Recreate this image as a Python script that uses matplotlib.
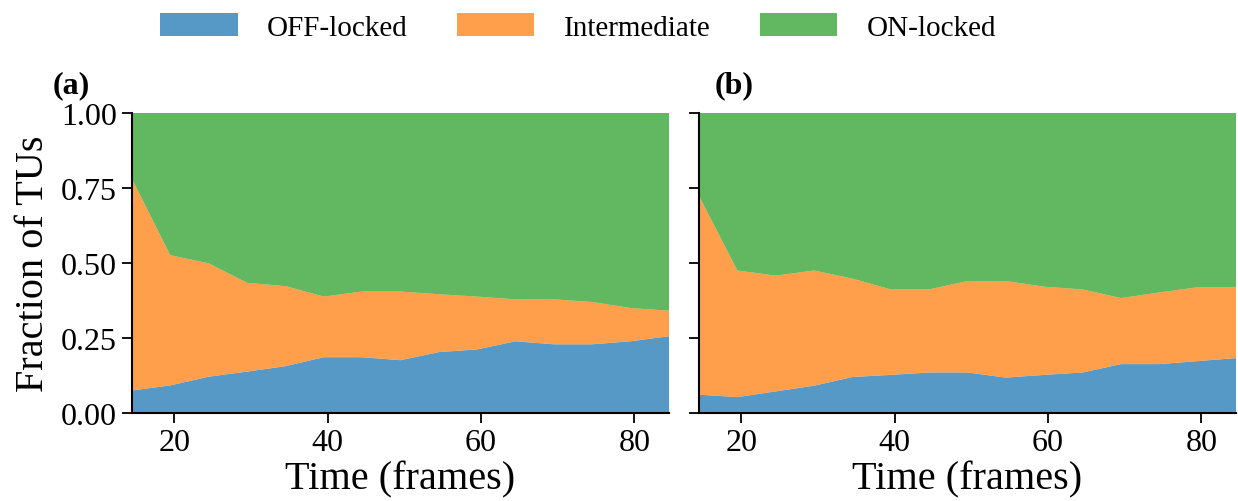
import matplotlib
matplotlib.use("Agg")
import matplotlib.pyplot as plt

plt.rcParams["font.family"] = ["Liberation Serif", "DejaVu Serif"]

# Time points (frames)
time = [14.5, 19.5, 24.5, 29.5, 34.5, 39.5, 44.5, 49.5, 54.5, 59.5, 64.5, 69.5, 74.5, 79.5, 84.5]

# Panel (a)
off_a = [0.075, 0.092, 0.121, 0.138, 0.156, 0.186, 0.186, 0.176, 0.203, 0.212, 0.239, 0.229, 0.229, 0.239, 0.256]
int_a = [0.705, 0.434, 0.378, 0.296, 0.267, 0.202, 0.219, 0.229, 0.193, 0.176, 0.140, 0.150, 0.141, 0.111, 0.085]
on_a = [0.220, 0.474, 0.501, 0.566, 0.577, 0.612, 0.595, 0.595, 0.604, 0.612, 0.621, 0.621, 0.630, 0.650, 0.659]

# Panel (b)
off_b = [0.061, 0.053, 0.072, 0.091, 0.120, 0.127, 0.135, 0.135, 0.118, 0.127, 0.135, 0.163, 0.163, 0.173, 0.183]
int_b = [0.663, 0.422, 0.386, 0.384, 0.328, 0.285, 0.277, 0.305, 0.322, 0.294, 0.277, 0.220, 0.239, 0.246, 0.236]
on_b = [0.276, 0.525, 0.542, 0.525, 0.552, 0.588, 0.588, 0.560, 0.560, 0.579, 0.588, 0.617, 0.598, 0.581, 0.581]

labels = ["OFF-locked", "Intermediate", "ON-locked"]
colors = ["tab:blue", "tab:orange", "tab:green"]

fig = plt.figure(figsize=(12.38, 5.02), dpi=100)
ax1 = fig.add_axes([0.1066, 0.1753, 0.4338, 0.5976])
ax2 = fig.add_axes([0.5646, 0.1753, 0.4338, 0.5976])

panels = [(ax1, off_a, int_a, on_a, "(a)"), (ax2, off_b, int_b, on_b, "(b)")]
for ax, off, mid, on, tag in panels:
    ax.stackplot(time, off, mid, on, labels=labels, colors=colors, alpha=0.75, linewidth=0)
    ax.set_xlim(14.5, 84.5)
    ax.set_ylim(0, 1)
    ax.set_xticks([20, 40, 60, 80])
    ax.set_yticks([0, 0.25, 0.5, 0.75, 1.0])
    ax.spines["top"].set_visible(False)
    ax.spines["right"].set_visible(False)
    for s in ["left", "bottom"]:
        ax.spines[s].set_linewidth(1.5)
    ax.tick_params(axis="both", labelsize=23, length=7.5, width=1.3, direction="out")
    ax.set_xlabel("Time (frames)", fontsize=29, labelpad=2)

ax1.set_yticklabels(["0.00", "0.25", "0.50", "0.75", "1.00"])
ax2.set_yticklabels([])
ax1.set_ylabel("Fraction of TUs", fontsize=29, labelpad=6)

ax1.text(-0.147, 1.093, "(a)", transform=ax1.transAxes, fontsize=23,
         fontweight="bold", va="center", ha="left")
ax2.text(0.03, 1.093, "(b)", transform=ax2.transAxes, fontsize=23,
         fontweight="bold", va="center", ha="left")

handles, leg_labels = ax1.get_legend_handles_labels()
fig.legend(handles, leg_labels, loc="center", bbox_to_anchor=(0.467, 0.944),
           ncol=3, frameon=False, fontsize=21, handlelength=2.65,
           handleheight=0.8, handletextpad=1.0, columnspacing=1.7)

fig.savefig("out.png", dpi=100)
